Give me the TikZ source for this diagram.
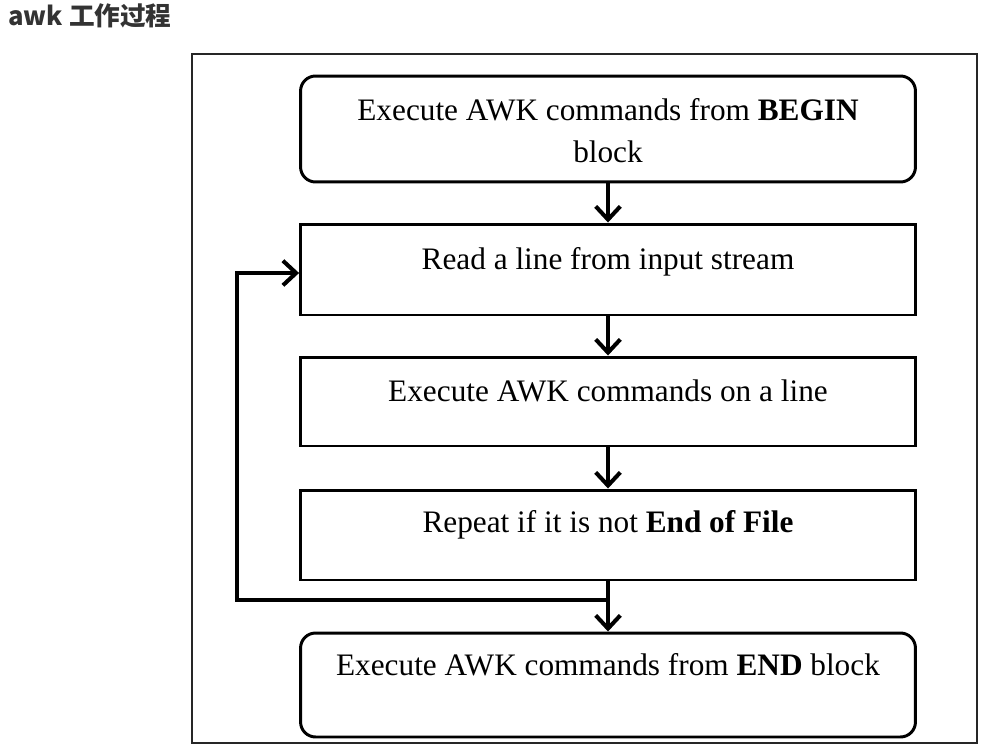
\documentclass[tikz,border=0pt]{standalone}
\usepackage{fontspec}
\setmainfont{Liberation Serif}
\newfontfamily\cjk{Noto Sans CJK SC}
\usetikzlibrary{arrows.meta}
\definecolor{titlegray}{HTML}{333333}
\begin{document}
\begin{tikzpicture}[x=0.02cm, y=-0.02cm]
\tikzset{ >={Straight Barb[length=7.5pt,width=14pt]},
  box/.style={draw, line width=1.7pt, minimum width=12.3cm, inner sep=0pt},
  rbox/.style={box, rounded corners=0.3cm},
  txt/.style={anchor=base, inner sep=0pt, font=\fontsize{17.8}{24}\selectfont},
  flow/.style={line width=2.3pt},
}
\useasboundingbox (0,0) rectangle (1000,750);
%\draw [lightgray, dashed](0,0) grid [step=50] (1000,750);

\node [anchor=base west, inner sep=0pt, text=titlegray, font=\cjk\bfseries\fontsize{14.6}{17}\selectfont] (title) at (8,26) {awk 工作过程};

\draw [black!85, line width=0.9pt] (192,54) rectangle (977,743);

\node [rbox, minimum height=2.12cm] (BEGIN) at (608,129) {};
\node [box,  minimum height=1.82cm] (READ)  at (608,269.5) {};
\node [box,  minimum height=1.78cm] (EXEC)  at (608,401.5) {};
\node [box,  minimum height=1.80cm] (REP)   at (608,535) {};
\node [rbox, minimum height=2.08cm] (END)   at (608,685) {};

\node [txt] (t1a) at (608,120) {Execute AWK commands from \textbf{BEGIN}};
\node [txt] (t1b) at (608,162) {block};
\node [txt] (t2)  at (608,269) {Read a line from input stream};
\node [txt] (t3)  at (608,401) {Execute AWK commands on a line};
\node [txt] (t4)  at (608,532) {Repeat if it is not \textbf{End of File}};
\node [txt] (t5)  at (608,675) {Execute AWK commands from \textbf{END} block};

\coordinate (split)  at (608,600);
\coordinate (corner) at (237,600);

\draw [->, flow] (BEGIN) -- (READ);
\draw [->, flow] (READ)  -- (EXEC);
\draw [->, flow] (EXEC)  -- (REP);
\draw [->, flow] (REP)   -- (END);
\draw [->, flow] (split) -- (corner) |- ([yshift=-2pt]READ.west);

\end{tikzpicture}
\end{document}
